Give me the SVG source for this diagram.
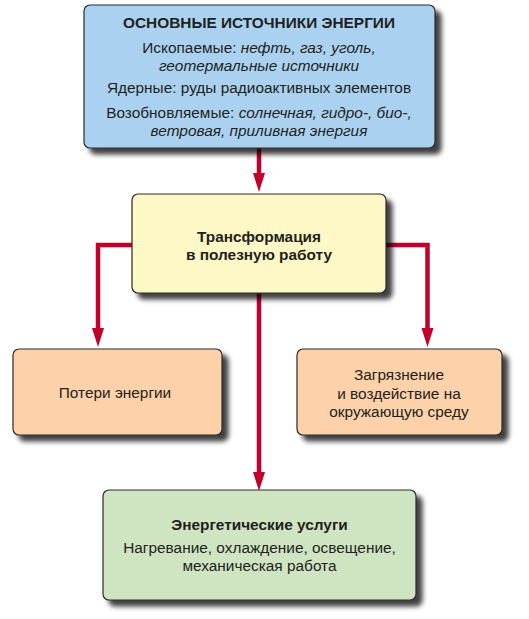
<svg xmlns="http://www.w3.org/2000/svg" width="529" height="619" viewBox="0 0 529 619">
<defs>
<filter id="sh" x="-10%" y="-10%" width="130%" height="140%">
<feDropShadow dx="6" dy="6" stdDeviation="2.8" flood-color="#000" flood-opacity="0.75"/>
</filter>
<marker id="ah" markerUnits="userSpaceOnUse" markerWidth="20" markerHeight="14" viewBox="0 -7 20 14" refX="0" refY="0" orient="auto">
<path d="M0,-6 L19,0 L0,6 z" fill="#c1002b"/>
</marker>
<style>
.box{stroke:#2a2a2a;stroke-width:1.2;filter:url(#sh)}
.t{font-family:"Liberation Sans",Arial,sans-serif;font-size:15.4px;fill:#231f20;text-anchor:middle}
.b{font-weight:bold}
.i{font-style:italic}
.c{fill:none;stroke:#c1002b;stroke-width:4.5}
</style>
</defs>
<g id="connectors">
<path class="c" d="M259,148 V173" marker-end="url(#ah)"/>
<path class="c" d="M140,245 H98 V328" marker-end="url(#ah)"/>
<path class="c" d="M380,245 H427.5 V328" marker-end="url(#ah)"/>
<path class="c" d="M259,290 V472" marker-end="url(#ah)"/>
</g>
<g id="sources">
<rect class="box" x="84" y="5" width="351" height="143" rx="6" fill="#aad2f0"/>
<text class="t b" x="259" y="28">ОСНОВНЫЕ ИСТОЧНИКИ ЭНЕРГИИ</text>
<text class="t" x="259" y="53">Ископаемые: <tspan class="i">нефть, газ, уголь,</tspan></text>
<text class="t i" x="259" y="71">геотермальные источники</text>
<text class="t" x="259" y="93">Ядерные: руды радиоактивных элементов</text>
<text class="t" x="259" y="118">Возобновляемые: <tspan class="i">солнечная, гидро-, био-,</tspan></text>
<text class="t i" x="259" y="136">ветровая, приливная энергия</text>
</g>
<g id="transform">
<rect class="box" x="132" y="194" width="254" height="99" rx="6" fill="#fef7c6"/>
<text class="t b" x="259" y="242">Трансформация</text>
<text class="t b" x="259" y="260">в полезную работу</text>
</g>
<g id="losses">
<rect class="box" x="13" y="349" width="209" height="86" rx="6" fill="#fdd1a9"/>
<text class="t" x="115" y="398">Потери энергии</text>
</g>
<g id="pollution">
<rect class="box" x="297" y="349" width="205" height="86" rx="6" fill="#fdd1a9"/>
<text class="t" x="399" y="380">Загрязнение</text>
<text class="t" x="399" y="398.5">и воздействие на</text>
<text class="t" x="399" y="417">окружающую среду</text>
</g>
<g id="services">
<rect class="box" x="103" y="490" width="313" height="110" rx="6" fill="#cfe4c1"/>
<text class="t b" x="259.5" y="529.5">Энергетические услуги</text>
<text class="t" x="259.5" y="553">Нагревание, охлаждение, освещение,</text>
<text class="t" x="259.5" y="571">механическая работа</text>
</g>
</svg>
